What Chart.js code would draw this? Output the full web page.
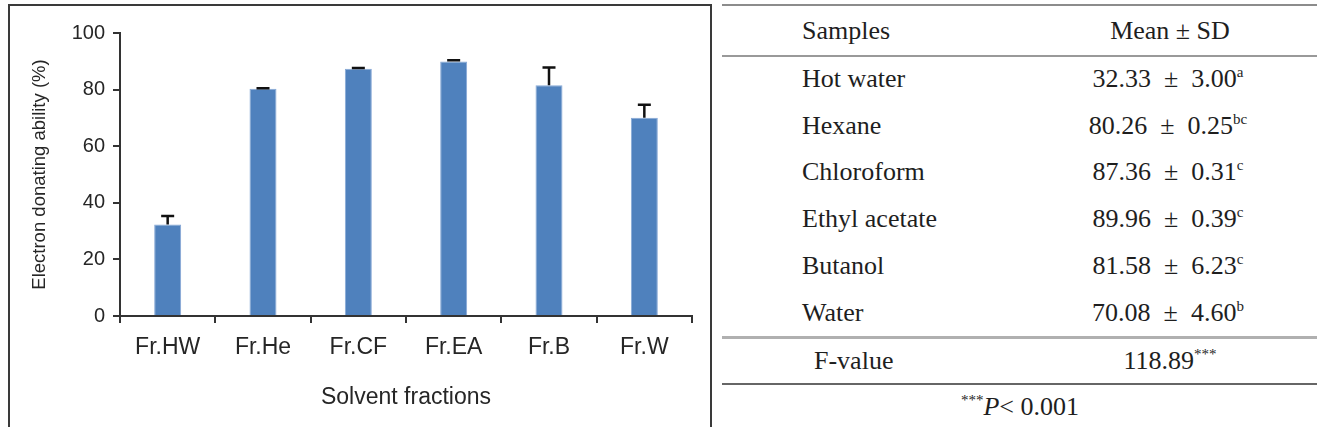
<!DOCTYPE html>
<html>
<head>
<meta charset="utf-8">
<script src="https://cdn.jsdelivr.net/npm/chart.js@4.4.1/dist/chart.umd.min.js"></script>
<style>
  body { margin: 0; background: #fff; width: 1339px; height: 427px; overflow: hidden; position: relative; }
  #box { position: absolute; left: 8px; top: 4px; width: 704px; height: 440px; border: 2px solid #3a3a3a; box-sizing: border-box; }
  #wrap { position: absolute; left: 0; top: 0; width: 720px; height: 427px; }
  .t { position: absolute; font-family: "Liberation Serif", "Times New Roman", serif; font-size: 26px; line-height: 26px; color: #1e1e1e; white-space: pre; }
  .c2 { width: 300px; margin-left: -150px; text-align: center; }
  .t sup { font-size: 15px; line-height: 0; vertical-align: 10px; color: #1e1e1e; }
  .ln { position: absolute; left: 722px; width: 595px; }
</style>
</head>
<body>
<div id="box"></div>
<div id="wrap"><canvas id="grafico" width="720" height="427"></canvas></div>
<div id="tabla"></div>
<script>
var etiquetas = ["Fr.HW", "Fr.He", "Fr.CF", "Fr.EA", "Fr.B", "Fr.W"];
var muestras = ["Hot water", "Hexane", "Chloroform", "Ethyl acetate", "Butanol", "Water"];
var medias = [32.33, 80.26, 87.36, 89.96, 81.58, 70.08];
var desviaciones = [3.00, 0.25, 0.31, 0.39, 6.23, 4.60];
var letras = ["a", "bc", "c", "c", "c", "b"];
var valorF = "118.89";
var ticksY = [0, 20, 40, 60, 80, 100];

// barras de error (solo la mitad superior, como en Excel)
var barrasError = {
    id: 'barrasError',
    afterDatasetsDraw: function (chart) {
        var ctx = chart.ctx;
        var meta = chart.getDatasetMeta(0);
        var y = chart.scales.y;
        ctx.save();
        ctx.strokeStyle = '#111';
        ctx.lineWidth = 2.5;
        meta.data.forEach(function (bar, i) {
            var yTop = y.getPixelForValue(medias[i] + desviaciones[i]);
            var yBase = y.getPixelForValue(medias[i]);
            ctx.beginPath();
            ctx.moveTo(bar.x, yBase);
            ctx.lineTo(bar.x, yTop);
            ctx.moveTo(bar.x - 6.5, yTop);
            ctx.lineTo(bar.x + 6.5, yTop);
            ctx.stroke();
        });
        ctx.restore();
    }
};

var fuente = "'Liberation Sans', Arial, sans-serif";
var ctx1 = document.getElementById("grafico").getContext("2d");
window.myBar = new Chart(ctx1, {
    type: 'bar',
    data: {
        labels: etiquetas,
        datasets: [{
            data: medias,
            backgroundColor: '#4f81bd',
            borderColor: '#86a8d6',
            borderWidth: 1,
            barPercentage: 0.283,
            categoryPercentage: 1
        }]
    },
    plugins: [barrasError],
    options: {
        responsive: false,
        animation: false,
        layout: { padding: { top: 33, right: 28, left: 0, bottom: 0 } },
        plugins: { legend: { display: false }, tooltip: { enabled: false } },
        scales: {
            x: {
                afterFit: function (scale) { scale.height = 111; },
                grid: { display: true, drawOnChartArea: false, tickLength: 7, color: '#333', lineWidth: 2, offset: true },
                border: { color: '#333', width: 2 },
                ticks: { color: '#262626', font: { family: fuente, size: 23 }, padding: 11, maxRotation: 0 },
                title: { display: true, text: 'Solvent fractions', color: '#262626', font: { family: fuente, size: 23 }, padding: { top: 0, bottom: 16 } }
            },
            y: {
                min: 0,
                max: 100,
                afterFit: function (scale) { scale.width = 120; },
                afterBuildTicks: function (scale) { scale.ticks = ticksY.map(function (v) { return { value: v }; }); },
                grid: { display: true, drawOnChartArea: false, tickLength: 7, color: '#333', lineWidth: 2 },
                border: { color: '#333', width: 2 },
                ticks: { color: '#262626', font: { family: fuente, size: 20 }, padding: 8 },
                title: { display: true, text: 'Electron donating ability (%)', color: '#262626', font: { family: fuente, size: 18.5 }, padding: { top: 29, bottom: 0 } }
            }
        }
    }
});

// tabla de la derecha
var tabla = document.getElementById("tabla");
function texto(html, left, baseline, clase) {
    var d = document.createElement("div");
    d.className = "t" + (clase ? " " + clase : "");
    d.style.left = left + "px";
    d.style.top = (baseline - 22) + "px";
    d.innerHTML = html;
    tabla.appendChild(d);
}
function linea(top, alto, color) {
    var d = document.createElement("div");
    d.className = "ln";
    d.style.top = top + "px";
    d.style.height = alto + "px";
    d.style.background = color;
    tabla.appendChild(d);
}
linea(4, 2, '#8c8c8c');
linea(55, 2, '#999');
linea(336, 3, '#b0b0b0');
linea(383, 2, '#666');
texto("Samples", 802, 40);
texto("Mean \u00b1 SD", 1170, 40, "c2");
var filas = [88, 135, 181, 228, 275, 322];
muestras.forEach(function (m, i) {
    texto(m, 802, filas[i]);
    texto(medias[i].toFixed(2) + "  \u00b1  " + desviaciones[i].toFixed(2) + "<sup>" + letras[i] + "</sup>", 1168, filas[i], "c2");
});
texto("F-value", 814, 370);
texto(valorF + "<sup>***</sup>", 1170, 370, "c2");
texto("<sup>***</sup><i>P</i>&lt; 0.001", 1020, 416, "c2");
</script>
</body>
</html>
